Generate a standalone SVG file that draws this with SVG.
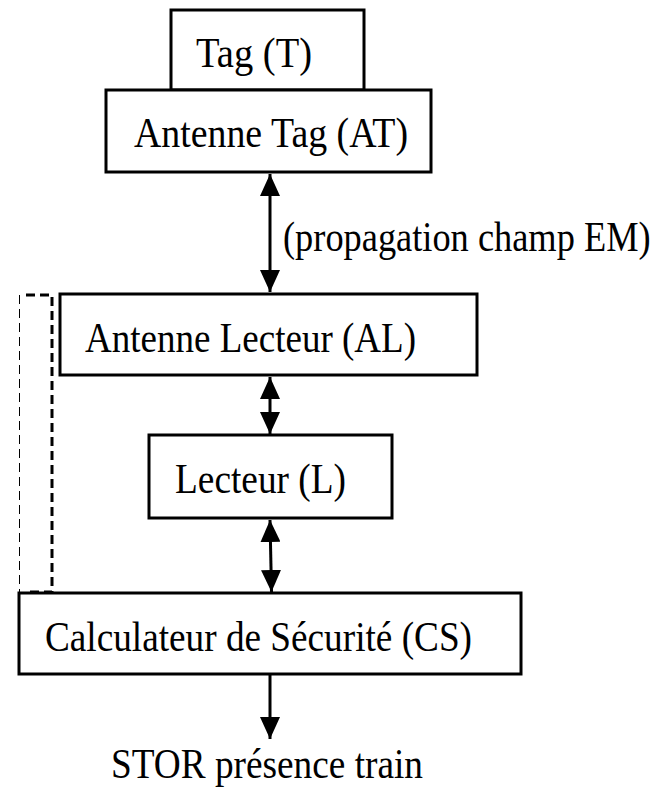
<svg xmlns="http://www.w3.org/2000/svg" width="666" height="789" viewBox="0 0 666 789">
<style>
.box{fill:#fff;stroke:#000;stroke-width:3}
.lbl{font-family:"Liberation Serif","Times New Roman",serif;font-size:43px;fill:#000}
.con{stroke:#000;stroke-width:3;fill:none}
</style>
<defs>
<marker id="ah" markerUnits="userSpaceOnUse" markerWidth="22" markerHeight="20" refX="22" refY="10" orient="auto-start-reverse" viewBox="0 0 22 20">
<path d="M0,0 L22,10 L0,20 z" fill="#000"/>
</marker>
</defs>
<g id="tag"><rect class="box" x="171" y="10" width="193" height="80"/><text class="lbl" x="196" y="67" textLength="116" lengthAdjust="spacingAndGlyphs">Tag (T)</text></g>
<g id="antenne-tag"><rect class="box" x="106" y="90" width="325" height="82"/><text class="lbl" x="134" y="147" textLength="274" lengthAdjust="spacingAndGlyphs">Antenne Tag (AT)</text></g>
<g id="antenne-lecteur"><rect class="box" x="60" y="294" width="417" height="81"/><text class="lbl" x="85" y="352" textLength="331" lengthAdjust="spacingAndGlyphs">Antenne Lecteur (AL)</text></g>
<g id="lecteur"><rect class="box" x="149" y="435" width="243" height="83"/><text class="lbl" x="175" y="493" textLength="171" lengthAdjust="spacingAndGlyphs">Lecteur (L)</text></g>
<g id="calculateur"><rect class="box" x="19" y="593" width="502" height="81"/><text class="lbl" x="45" y="651" textLength="427" lengthAdjust="spacingAndGlyphs">Calculateur de Sécurité (CS)</text></g>
<g id="sortie"><text class="lbl" x="111" y="778" textLength="312" lengthAdjust="spacingAndGlyphs">STOR présence train</text></g>
<g id="connectors">
<line class="con" x1="270" y1="174" x2="270" y2="292" marker-start="url(#ah)" marker-end="url(#ah)"/>
<text class="lbl" transform="translate(283,251) scale(0.846,1)" x="0" y="0">(propagation champ EM)</text>
<line class="con" x1="270" y1="377" x2="270" y2="434" marker-start="url(#ah)" marker-end="url(#ah)"/>
<line class="con" x1="270" y1="520" x2="271.5" y2="592" marker-start="url(#ah)" marker-end="url(#ah)"/>
<line class="con" x1="270" y1="675" x2="270" y2="739" marker-end="url(#ah)"/>
<path d="M26,295 H52 V592 H26" stroke="#000" stroke-width="3" stroke-dasharray="9,5" fill="none"/>
<line x1="19.5" y1="295" x2="19.5" y2="593" stroke="#000" stroke-width="1" stroke-dasharray="9,5"/>
</g>
</svg>
